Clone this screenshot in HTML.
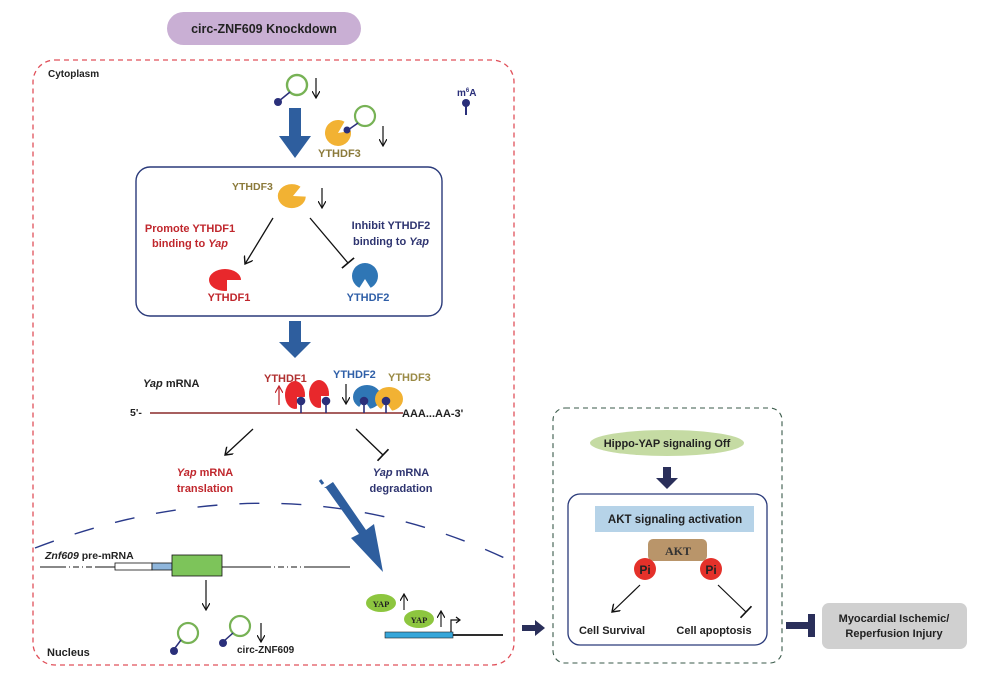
<!DOCTYPE html>
<html><head><meta charset="utf-8"><style>
html,body{margin:0;padding:0;background:#fff;}
svg{display:block;font-family:"Liberation Sans",Arial,sans-serif;font-weight:bold;}
</style></head><body>
<svg width="1000" height="673" viewBox="0 0 1000 673" xmlns="http://www.w3.org/2000/svg">
<defs>
<marker id="ah" markerWidth="10" markerHeight="10" refX="8" refY="5" orient="auto" markerUnits="userSpaceOnUse">
<path d="M1,0 L8,5 L1,10" fill="none" stroke="#111" stroke-width="1.4"/></marker>
<marker id="tb" markerWidth="4" markerHeight="16" refX="2" refY="8" orient="auto" markerUnits="userSpaceOnUse">
<path d="M2,0 L2,16" stroke="#111" stroke-width="1.6"/></marker>
<marker id="sa" markerWidth="8" markerHeight="8" refX="7" refY="4" orient="auto" markerUnits="userSpaceOnUse">
<path d="M0,0 L7,4 L0,8" fill="none" stroke="#111" stroke-width="1.2"/></marker>
<marker id="sr" markerWidth="8" markerHeight="8" refX="7" refY="4" orient="auto" markerUnits="userSpaceOnUse">
<path d="M0,0 L7,4 L0,8" fill="none" stroke="#c0272d" stroke-width="1.2"/></marker>
</defs>

<rect x="167" y="12" width="194" height="33" rx="16.5" fill="#c9afd4"/>
<text x="264" y="33" font-size="12.5" text-anchor="middle" fill="#222">circ-ZNF609 Knockdown</text>

<rect x="33" y="60" width="481" height="605" rx="22" fill="none" stroke="#e0505a" stroke-width="1.3" stroke-dasharray="5,4"/>
<text x="48" y="77" font-size="10" fill="#222">Cytoplasm</text>
<text x="457" y="96" font-size="10" fill="#2a2f7a">m<tspan font-size="6" dy="-4">6</tspan><tspan dy="4">A</tspan></text>
<line x1="466" y1="103" x2="466" y2="115" stroke="#2a2f7a" stroke-width="2"/><circle cx="466" cy="103" r="4" fill="#2a2f7a"/>

<circle cx="297" cy="85" r="10" fill="none" stroke="#77b255" stroke-width="2.4"/>
<line x1="290" y1="92" x2="279" y2="101" stroke="#2a2f7a" stroke-width="1.5"/><circle cx="278" cy="102" r="4" fill="#2a2f7a"/>
<line x1="316" y1="78" x2="316" y2="98" stroke="#111" stroke-width="1.2" marker-end="url(#sa)"/>

<polygon points="289,108 301,108 301,136 311,136 295,158 279,136 289,136" fill="#2e5e9e"/>

<path d="M350.8,130.7 A13,13 0 1 1 344.5,121.7 L338,133 Z" fill="#f2b233"/>
<circle cx="365" cy="116" r="10" fill="none" stroke="#77b255" stroke-width="2.2"/>
<line x1="358" y1="123" x2="348" y2="130" stroke="#2a2f7a" stroke-width="1.5"/><circle cx="347" cy="130" r="3.5" fill="#2a2f7a"/>
<text x="318" y="157" font-size="11" fill="#8b7a3a">YTHDF3</text>
<line x1="383" y1="126" x2="383" y2="146" stroke="#111" stroke-width="1.2" marker-end="url(#sa)"/>

<rect x="136" y="167" width="306" height="149" rx="14" fill="none" stroke="#2a3a7a" stroke-width="1.4"/>
<text x="232" y="190" font-size="10.5" fill="#8b7a3a">YTHDF3</text>
<path d="M305.8,196.6 A14,12 0 1 1 300.5,186.7 L293,196 Z" fill="#f2b233"/>
<line x1="322" y1="188" x2="322" y2="208" stroke="#111" stroke-width="1.2" marker-end="url(#sa)"/>
<line x1="273" y1="218" x2="245" y2="264" stroke="#111" stroke-width="1.3" marker-end="url(#ah)"/>
<line x1="310" y1="218" x2="348" y2="263" stroke="#111" stroke-width="1.3" marker-end="url(#tb)"/>
<text x="190" y="232" font-size="11" text-anchor="middle" fill="#c0272d">Promote YTHDF1</text>
<text x="190" y="247" font-size="11" text-anchor="middle" fill="#c0272d">binding to <tspan font-style="italic">Yap</tspan></text>
<text x="391" y="229" font-size="11" text-anchor="middle" fill="#2e3470">Inhibit YTHDF2</text>
<text x="391" y="245" font-size="11" text-anchor="middle" fill="#2e3470">binding to <tspan font-style="italic">Yap</tspan></text>
<ellipse cx="225" cy="280" rx="16" ry="11" fill="#e8282c"/>
<polygon points="227,280 243,280 243,292 227,292" fill="#fff"/>
<text x="229" y="301" font-size="11" text-anchor="middle" fill="#c0272d">YTHDF1</text>
<circle cx="365" cy="276" r="13" fill="#2f76b5"/>
<polygon points="358,290 365,279 372,290" fill="#fff"/>
<text x="368" y="301" font-size="11" text-anchor="middle" fill="#2f5fa8">YTHDF2</text>

<polygon points="289,321 301,321 301,342 311,342 295,358 279,342 289,342" fill="#2e5e9e"/>

<text x="143" y="387" font-size="11" fill="#222"><tspan font-style="italic">Yap</tspan> mRNA</text>
<text x="130" y="416" font-size="10.5" fill="#222">5'-</text>
<line x1="150" y1="413" x2="403" y2="413" stroke="#8a2a2a" stroke-width="1.6"/>
<text x="402" y="417" font-size="11" fill="#222">AAA...AA-3'</text>
<text x="264" y="382" font-size="11" fill="#b03030">YTHDF1</text>
<line x1="279" y1="405" x2="279" y2="386" stroke="#c0272d" stroke-width="1.3" marker-end="url(#sr)"/>
<ellipse cx="295" cy="395" rx="10" ry="14" fill="#e8282c"/>
<ellipse cx="319" cy="394" rx="10" ry="14" fill="#e8282c"/>
<polygon points="297,397 306,397 306,410 297,410" fill="#fff"/>
<polygon points="321,396 330,396 330,410 321,410" fill="#fff"/>
<text x="333" y="378" font-size="11" fill="#2f5fa8">YTHDF2</text>
<line x1="346" y1="384" x2="346" y2="404" stroke="#111" stroke-width="1.2" marker-end="url(#sa)"/>
<ellipse cx="367" cy="397" rx="14" ry="12" fill="#2f76b5"/>
<polygon points="357,410 364,400 371,410" fill="#fff"/>
<ellipse cx="389" cy="399" rx="14" ry="12" fill="#f2b233"/>
<polygon points="379,412 386,402 393,412" fill="#fff"/>
<text x="388" y="381" font-size="11" fill="#9a8a45">YTHDF3</text>
<g fill="#2a2f7a" stroke="#2a2f7a" stroke-width="1.6">
<line x1="301" y1="402" x2="301" y2="413"/><circle cx="301" cy="401" r="3.5"/>
<line x1="326" y1="402" x2="326" y2="413"/><circle cx="326" cy="401" r="3.5"/>
<line x1="364" y1="402" x2="364" y2="413"/><circle cx="364" cy="401" r="3.5"/>
<line x1="386" y1="402" x2="386" y2="413"/><circle cx="386" cy="401" r="3.5"/>
</g>
<line x1="253" y1="429" x2="225" y2="455" stroke="#111" stroke-width="1.3" marker-end="url(#ah)"/>
<line x1="356" y1="429" x2="383" y2="455" stroke="#111" stroke-width="1.3" marker-end="url(#tb)"/>
<text x="205" y="476" font-size="11" text-anchor="middle" fill="#c0272d"><tspan font-style="italic">Yap</tspan> mRNA</text>
<text x="205" y="492" font-size="11" text-anchor="middle" fill="#c0272d">translation</text>
<text x="401" y="476" font-size="11" text-anchor="middle" fill="#2e3470"><tspan font-style="italic">Yap</tspan> mRNA</text>
<text x="401" y="492" font-size="11" text-anchor="middle" fill="#2e3470">degradation</text>

<path d="M35,548 Q285,452 513,562" fill="none" stroke="#2a3a8a" stroke-width="1.4" stroke-dasharray="20,22"/>

<line x1="320" y1="480" x2="323" y2="484" stroke="#2e5e9e" stroke-width="3"/>
<polygon points="324,488 333,482 366,530 374,524 383,572 351,538 359,534 326,488" fill="#2e5e9e"/>

<text x="45" y="559" font-size="10.5" fill="#222"><tspan font-style="italic">Znf609</tspan> pre-mRNA</text>
<line x1="40" y1="567" x2="60" y2="567" stroke="#111" stroke-width="1"/>
<line x1="60" y1="567" x2="95" y2="567" stroke="#111" stroke-width="1" stroke-dasharray="6,3,1,3"/>
<line x1="95" y1="567" x2="115" y2="567" stroke="#111" stroke-width="1"/>
<rect x="115" y="563" width="37" height="7" fill="#fff" stroke="#111" stroke-width="0.8"/>
<rect x="152" y="563" width="20" height="7" fill="#8fb6dc" stroke="#111" stroke-width="0.8"/>
<rect x="172" y="555" width="50" height="21" fill="#7dc45a" stroke="#111" stroke-width="0.8"/>
<line x1="222" y1="567" x2="265" y2="567" stroke="#111" stroke-width="1"/>
<line x1="265" y1="567" x2="308" y2="567" stroke="#111" stroke-width="1" stroke-dasharray="6,3,1,3"/>
<line x1="308" y1="567" x2="350" y2="567" stroke="#111" stroke-width="1"/>
<line x1="206" y1="580" x2="206" y2="610" stroke="#111" stroke-width="1.2" marker-end="url(#sa)"/>
<circle cx="188" cy="633" r="10" fill="none" stroke="#77b255" stroke-width="2.2"/>
<line x1="181" y1="640" x2="175" y2="648" stroke="#2a2f7a" stroke-width="1.5"/><circle cx="174" cy="651" r="4" fill="#2a2f7a"/>
<circle cx="240" cy="626" r="10" fill="none" stroke="#77b255" stroke-width="2.2"/>
<line x1="233" y1="633" x2="224" y2="641" stroke="#2a2f7a" stroke-width="1.5"/><circle cx="223" cy="643" r="4" fill="#2a2f7a"/>
<line x1="261" y1="623" x2="261" y2="642" stroke="#111" stroke-width="1.2" marker-end="url(#sa)"/>
<text x="237" y="653" font-size="10" fill="#222">circ-ZNF609</text>
<text x="47" y="656" font-size="11" fill="#222">Nucleus</text>

<ellipse cx="381" cy="603" rx="15" ry="9" fill="#8dc63f"/>
<text x="381" y="607" font-size="8.5" text-anchor="middle" fill="#222" font-family="Liberation Serif,serif">YAP</text>
<line x1="404" y1="610" x2="404" y2="594" stroke="#111" stroke-width="1.1" marker-end="url(#sa)"/>
<ellipse cx="419" cy="619" rx="15" ry="9" fill="#8dc63f"/>
<text x="419" y="623" font-size="8.5" text-anchor="middle" fill="#222" font-family="Liberation Serif,serif">YAP</text>
<line x1="441" y1="627" x2="441" y2="611" stroke="#111" stroke-width="1.1" marker-end="url(#sa)"/>
<rect x="385" y="632" width="68" height="6" fill="#36a6d9" stroke="#222" stroke-width="0.6"/>
<line x1="453" y1="635" x2="503" y2="635" stroke="#111" stroke-width="1.8"/>
<path d="M451,632 L451,620 L459,620" fill="none" stroke="#111" stroke-width="1.2"/>
<path d="M456,617 L460,620 L456,623" fill="none" stroke="#111" stroke-width="1.2"/>

<polygon points="522,625 535,625 535,620 545,628 535,636 535,631 522,631" fill="#2a2f5a"/>

<rect x="553" y="408" width="229" height="255" rx="12" fill="none" stroke="#3a5a4a" stroke-width="1.1" stroke-dasharray="5,4"/>
<ellipse cx="667" cy="443" rx="77" ry="13" fill="#c5dba3"/>
<text x="667" y="447" font-size="11" text-anchor="middle" fill="#222">Hippo-YAP signaling Off</text>
<polygon points="663,467 671,467 671,478 678,478 667,489 656,478 663,478" fill="#2a2f5a"/>
<rect x="568" y="494" width="199" height="151" rx="12" fill="none" stroke="#2a3a7a" stroke-width="1.3"/>
<rect x="595" y="506" width="159" height="26" fill="#b6d3e8"/>
<text x="675" y="523" font-size="11.5" text-anchor="middle" fill="#222">AKT signaling activation</text>
<rect x="648" y="539" width="59" height="22" rx="5" fill="#b9956a"/>
<text x="678" y="555" font-size="12" text-anchor="middle" fill="#333" font-family="Liberation Serif,serif">AKT</text>
<circle cx="645" cy="569" r="11" fill="#e4312a"/>
<text x="645" y="574" font-size="12" text-anchor="middle" fill="#222">Pi</text>
<circle cx="711" cy="569" r="11" fill="#e4312a"/>
<text x="711" y="574" font-size="12" text-anchor="middle" fill="#222">Pi</text>
<line x1="640" y1="585" x2="612" y2="612" stroke="#111" stroke-width="1.2" marker-end="url(#ah)"/>
<line x1="718" y1="585" x2="746" y2="612" stroke="#111" stroke-width="1.2" marker-end="url(#tb)"/>
<text x="612" y="634" font-size="11" text-anchor="middle" fill="#222">Cell Survival</text>
<text x="714" y="634" font-size="11" text-anchor="middle" fill="#222">Cell apoptosis</text>

<rect x="786" y="622" width="22" height="7" fill="#2a2f5a"/>
<rect x="808" y="614" width="7" height="23" fill="#2a2f5a"/>
<rect x="822" y="603" width="145" height="46" rx="7" fill="#d0d0d0"/>
<text x="894" y="622" font-size="11" text-anchor="middle" fill="#222">Myocardial Ischemic/</text>
<text x="894" y="637" font-size="11" text-anchor="middle" fill="#222">Reperfusion Injury</text>
</svg>
</body></html>
